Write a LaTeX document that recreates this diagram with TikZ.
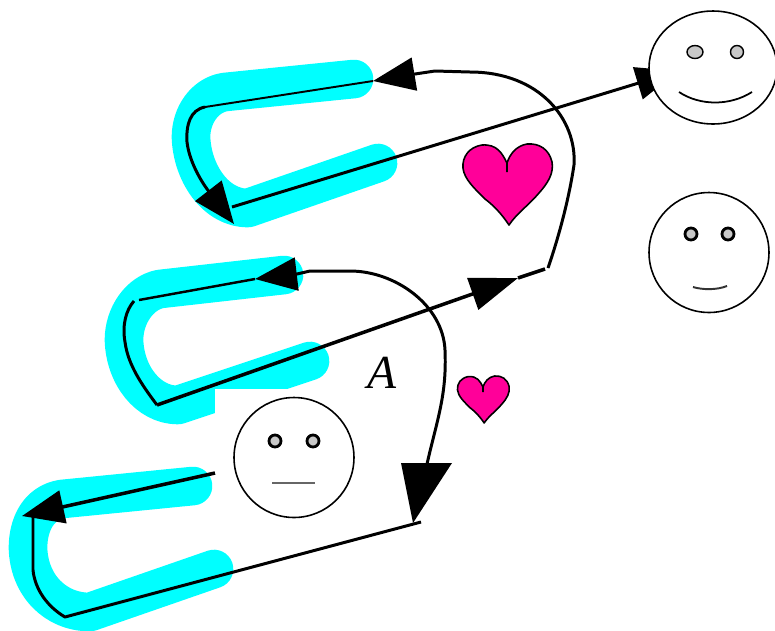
\documentclass[tikz,border=0pt]{standalone}
\usepackage{fontspec}
\setmainfont{Liberation Serif}
\usetikzlibrary{arrows.meta,shapes.geometric}
\definecolor{band}{RGB}{0,255,255}
\definecolor{rose}{RGB}{255,0,153}
\definecolor{eye}{RGB}{200,200,200}
\tikzset{
  bandline/.style={band,line width=22pt,line cap=round,line join=round},
  wire/.style={black,line width=1.7pt,line join=round},
  thinwire/.style={black,line width=1.1pt},
  smalltip/.style={-{Triangle[length=.84cm,width=.66cm]}},
  longtip/.style={-{Triangle[length=.96cm,width=.66cm]}},
  facering/.style={draw=black,fill=white,line width=.9pt,inner sep=0pt},
  eyedot/.style={circle,draw=black,fill=eye,inner sep=0pt},
  lovepic/.pic={
    \draw[black,fill=rose,line width=.9pt,line join=round] (0,0) .. controls (-5,-10) and (-10,-19) .. (-25,-18)
      .. controls (-38,-16) and (-45,-6) .. (-44,5) .. controls (-43,16) and (-32,26) .. (-22,36)
      .. controls (-14,42) and (-6,50) .. (2,62) .. controls (10,50) and (22,42) .. (32,30)
      .. controls (41,20) and (47,10) .. (45,-1) .. controls (42,-14) and (32,-20) .. (20,-19)
      .. controls (9,-17) and (3,-9) .. (0,0) -- (0,9);
  }
}
\begin{document}
\begin{tikzpicture}[x=.02cm,y=-.02cm]
  \useasboundingbox (0,0) rectangle (775,630);
  \draw[bandline] (354,79) -- (225,92) .. controls (205,95) and (191,115) .. (191,137) .. controls (192,172) and (215,208) .. (248,208) -- (378,163);
  \draw[bandline] (284,275) -- (160,289) .. controls (140,293) and (124,315) .. (124,340) .. controls (125,375) and (148,405) .. (178,405) -- (310,361);
  \draw[bandline] (193,486) -- (62,499) .. controls (38,503) and (28,525) .. (28,548) .. controls (29,585) and (55,612) .. (90,612) -- (214,569);
  \fill[white] (215,389) rectangle (360,520);
  % end points
  \coordinate (tipa) at (373,81);
  \coordinate (basea) at (415,74);
  \coordinate (turna) at (548,268);
  \coordinate (topa) at (205,107);
  \coordinate (tipb) at (234,224);
  \coordinate (tailb) at (232,207);
  \coordinate (tipc) at (678,71);
  \coordinate (tailc) at (157,405);
  \coordinate (tipd) at (518,278);
  \coordinate (taild) at (545,269);
  \coordinate (tipe) at (255,279);
  \coordinate (basee) at (297,274);
  \coordinate (tipf) at (413,523);
  \coordinate (basef) at (427,464);
  \coordinate (topf) at (139,300);
  \coordinate (upf) at (134,301);
  \coordinate (tailg) at (215,473);
  \coordinate (tipg) at (22,516);
  \coordinate (upg) at (33,517);
  \coordinate (lowg) at (65,617);
  \coordinate (endg) at (421,522);
  % upper loop
  \draw[wire,smalltip] (turna) .. controls (556,245) and (568,205) .. (574,165) .. controls (577,120) and (540,72) .. (470,72) -- (435,71) -- (basea) -- (tipa);
  \draw[thinwire] (tipa) -- (topa);
  \draw[wire,smalltip] (topa) .. controls (190,110) and (186,125) .. (187,142) .. controls (189,160) and (200,180) .. (tipb);
  \draw[wire,smalltip] (tailb) -- (tipc);
  % middle loop
  \draw[wire,longtip,line width=2pt] (tailc) -- (tipd);
  \draw[wire,line width=2pt] (tipd) -- (taild);
  \draw[wire,smalltip] (445,350) .. controls (443,305) and (395,271) .. (350,271) -- (310,271) -- (basee) -- (tipe);
  \draw[wire] (445,350) .. controls (447,395) and (437,420) .. (basef);
  \fill[black] (401,463) -- (452,463) -- (tipf) -- cycle;
  \draw[thinwire,line width=1.4pt] (tipe) -- (topf);
  \draw[wire] (upf) .. controls (126,310) and (122,325) .. (125,342) .. controls (128,365) and (142,385) .. (tailc);
  % lower loop
  \draw[wire,smalltip,line width=2pt] (tailg) -- (tipg);
  \draw[wire] (upg) -- (33,570) .. controls (35,590) and (48,607) .. (lowg) -- (endg);
  % hearts
  \pic at (507,163) {lovepic};
  \pic[scale=.58] at (483,387) {lovepic};
  \node[font=\fontsize{27}{30}\selectfont\itshape] (lbl) at (382,373) {A};
  % faces
  \node[facering,ellipse,minimum width=2.56cm,minimum height=2.26cm] (happy) at (713,67.5) {};
  \node[eyedot,ellipse,minimum width=.32cm,minimum height=.26cm,line width=.8pt] (happyl) at (695,52) {};
  \node[eyedot,minimum size=.26cm,line width=.8pt] (happyr) at (737,52) {};
  \draw[black,line width=1pt] (679,92) .. controls (700,106) and (730,106) .. (752,92);
  \foreach \x/\y/\n in {709/252.5/calm,294/457.5/flat}{
    \node[facering,circle,minimum size=2.4cm] (\n) at (\x,\y) {};
  }
  \foreach \x/\y/\n in {691/234/calml,728/234/calmr,275/441/flatl,313/441/flatr}{
    \node[eyedot,minimum size=.24cm,line width=1.6pt] (\n) at (\x,\y) {};
  }
  \draw[black!80,line width=1.1pt] (693,287) .. controls (703,290) and (717,290) .. (727,286);
  \draw[black!60,line width=.6pt] (272,483) -- (315,483);
\end{tikzpicture}
\end{document}
